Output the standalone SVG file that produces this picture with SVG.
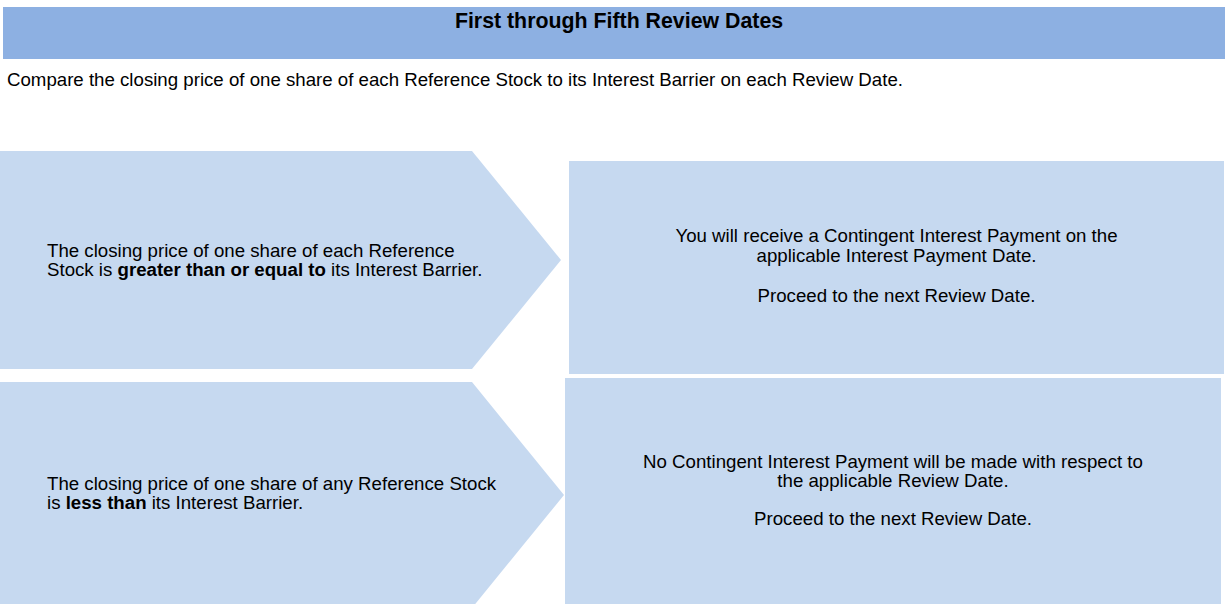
<svg xmlns="http://www.w3.org/2000/svg" width="1225" height="604" viewBox="0 0 1225 604">
<style>
.t{font-family:"Liberation Sans",Arial,sans-serif;font-size:18.67px;fill:#000}
.b{font-weight:bold}
.c{text-anchor:middle}
.box{fill:#C6D9F0}
</style>
<rect width="1225" height="604" fill="#fff"/>
<g id="header">
<rect x="3" y="7" width="1222" height="52" fill="#8DB0E2"/>
<text class="t b c" x="619" y="27.5" style="font-size:21.33px">First through Fifth Review Dates</text>
</g>
<g id="intro">
<text class="t" x="7" y="86">Compare the closing price of one share of each Reference Stock to its Interest Barrier on each Review Date.</text>
</g>
<g id="cond-above">
<polygon class="box" points="0,151 472,151 561,260 472,369 0,369"/>
<text class="t" x="47" y="256.5">The closing price of one share of each Reference</text>
<text class="t" x="47" y="275.5">Stock is <tspan class="b">greater than or equal to</tspan> its Interest Barrier.</text>
</g>
<g id="result-above">
<rect class="box" x="569" y="161" width="655" height="213"/>
<text class="t c" x="896.5" y="242">You will receive a Contingent Interest Payment on the</text>
<text class="t c" x="896.5" y="261.5">applicable Interest Payment Date.</text>
<text class="t c" x="896.5" y="301.5">Proceed to the next Review Date.</text>
</g>
<g id="cond-below">
<polygon class="box" points="0,382 472,382 564,495 472,608 0,608"/>
<text class="t" x="47" y="490">The closing price of one share of any Reference Stock</text>
<text class="t" x="47" y="509">is <tspan class="b">less than</tspan> its Interest Barrier.</text>
</g>
<g id="result-below">
<rect class="box" x="565" y="378" width="656" height="226"/>
<text class="t c" x="893" y="467.5">No Contingent Interest Payment will be made with respect to</text>
<text class="t c" x="893" y="487">the applicable Review Date.</text>
<text class="t c" x="893" y="525">Proceed to the next Review Date.</text>
</g>
<g id="connectors"></g>
</svg>
